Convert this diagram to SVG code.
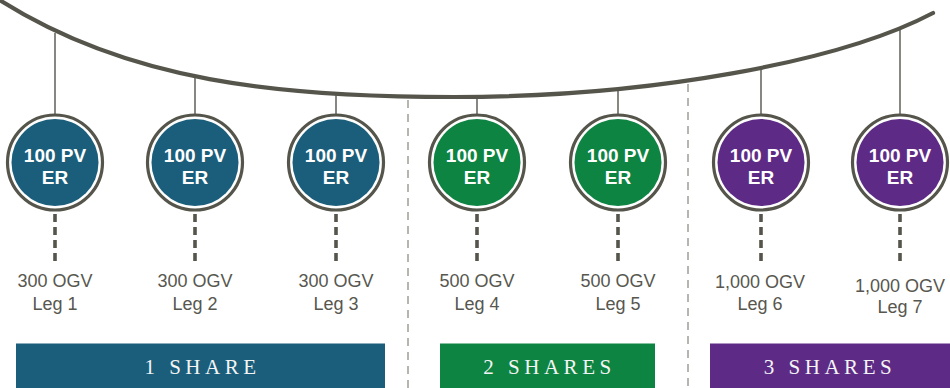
<svg xmlns="http://www.w3.org/2000/svg" width="950" height="388" viewBox="0 0 950 388">
<style>
.ring{fill:#ffffff;stroke:#55554b;stroke-width:3.2}
.blue{fill:#1a5e7b}
.green{fill:#0e8442}
.purple{fill:#5d2b86}
.nt{font-family:"Liberation Sans",Arial,sans-serif;font-weight:bold;font-size:19px;fill:#ffffff;text-anchor:middle}
.lbl{font-family:"Liberation Sans",Arial,sans-serif;font-size:18px;fill:#57574f;text-anchor:middle}
.bar{font-family:"Liberation Serif","Times New Roman",serif;font-size:21px;fill:#f4f4f4;text-anchor:middle;letter-spacing:4.5px}
.hang{stroke:#6a6a62;stroke-width:1.6;fill:none}
.drop{stroke:#55554b;stroke-width:3.6;stroke-dasharray:8 5;fill:none}
.sep{stroke:#7a7a72;stroke-width:1.1;stroke-dasharray:8 6;fill:none}
.curve{stroke:#56554b;stroke-width:4.2;fill:none;stroke-linecap:round}
</style>
<rect width="950" height="388" fill="#ffffff"/>
<g id="connectors">
<line class="sep" x1="408" y1="100" x2="408" y2="388"/>
<line class="sep" x1="688" y1="84" x2="688" y2="388"/>
<line class="hang" x1="55" y1="33" x2="55" y2="115"/>
<line class="hang" x1="195" y1="75" x2="195" y2="115"/>
<line class="hang" x1="336" y1="93" x2="336" y2="115"/>
<line class="hang" x1="477" y1="95" x2="477" y2="115"/>
<line class="hang" x1="618" y1="87" x2="618" y2="115"/>
<line class="hang" x1="761" y1="66" x2="761" y2="115"/>
<line class="hang" x1="900" y1="29" x2="900" y2="115"/>
<line class="drop" x1="55" y1="214" x2="55" y2="262"/>
<line class="drop" x1="195" y1="214" x2="195" y2="262"/>
<line class="drop" x1="336" y1="214" x2="336" y2="262"/>
<line class="drop" x1="477" y1="214" x2="477" y2="262"/>
<line class="drop" x1="618" y1="214" x2="618" y2="262"/>
<line class="drop" x1="761" y1="214" x2="761" y2="262"/>
<line class="drop" x1="900" y1="214" x2="900" y2="262"/>
<path class="curve" d="M-2,-1 C128,82 280,97 454,97 C650,97 840,62 933,13"/>
</g>
<g id="node1"><circle class="ring" cx="55" cy="162.5" r="47.5"/><circle class="blue" cx="55" cy="162.5" r="43.5"/><text class="nt" x="55" y="162">100 PV</text><text class="nt" x="55" y="184">ER</text><text class="lbl" x="55" y="287">300 OGV</text><text class="lbl" x="55" y="310">Leg 1</text></g>
<g id="node2"><circle class="ring" cx="195" cy="162.5" r="47.5"/><circle class="blue" cx="195" cy="162.5" r="43.5"/><text class="nt" x="195" y="162">100 PV</text><text class="nt" x="195" y="184">ER</text><text class="lbl" x="195" y="287">300 OGV</text><text class="lbl" x="195" y="310">Leg 2</text></g>
<g id="node3"><circle class="ring" cx="336" cy="162.5" r="47.5"/><circle class="blue" cx="336" cy="162.5" r="43.5"/><text class="nt" x="336" y="162">100 PV</text><text class="nt" x="336" y="184">ER</text><text class="lbl" x="336" y="287">300 OGV</text><text class="lbl" x="336" y="310">Leg 3</text></g>
<g id="node4"><circle class="ring" cx="477" cy="162.5" r="47.5"/><circle class="green" cx="477" cy="162.5" r="43.5"/><text class="nt" x="477" y="162">100 PV</text><text class="nt" x="477" y="184">ER</text><text class="lbl" x="477" y="287">500 OGV</text><text class="lbl" x="477" y="310">Leg 4</text></g>
<g id="node5"><circle class="ring" cx="618" cy="162.5" r="47.5"/><circle class="green" cx="618" cy="162.5" r="43.5"/><text class="nt" x="618" y="162">100 PV</text><text class="nt" x="618" y="184">ER</text><text class="lbl" x="618" y="287">500 OGV</text><text class="lbl" x="618" y="310">Leg 5</text></g>
<g id="node6"><circle class="ring" cx="761" cy="162.5" r="47.5"/><circle class="purple" cx="761" cy="162.5" r="43.5"/><text class="nt" x="761" y="162">100 PV</text><text class="nt" x="761" y="184">ER</text><text class="lbl" x="760" y="288">1,000 OGV</text><text class="lbl" x="760" y="310">Leg 6</text></g>
<g id="node7"><circle class="ring" cx="900" cy="162.5" r="47.5"/><circle class="purple" cx="900" cy="162.5" r="43.5"/><text class="nt" x="900" y="162">100 PV</text><text class="nt" x="900" y="184">ER</text><text class="lbl" x="900" y="292">1,000 OGV</text><text class="lbl" x="900" y="313">Leg 7</text></g>
<g id="bar1"><rect class="blue" x="16" y="343.5" width="369" height="45"/><text class="bar" x="202.5" y="374">1 SHARE</text></g>
<g id="bar2"><rect class="green" x="440" y="343.5" width="215" height="45"/><text class="bar" x="549.5" y="374">2 SHARES</text></g>
<g id="bar3"><rect class="purple" x="710" y="343.5" width="240" height="45"/><text class="bar" x="830" y="374">3 SHARES</text></g>
</svg>
